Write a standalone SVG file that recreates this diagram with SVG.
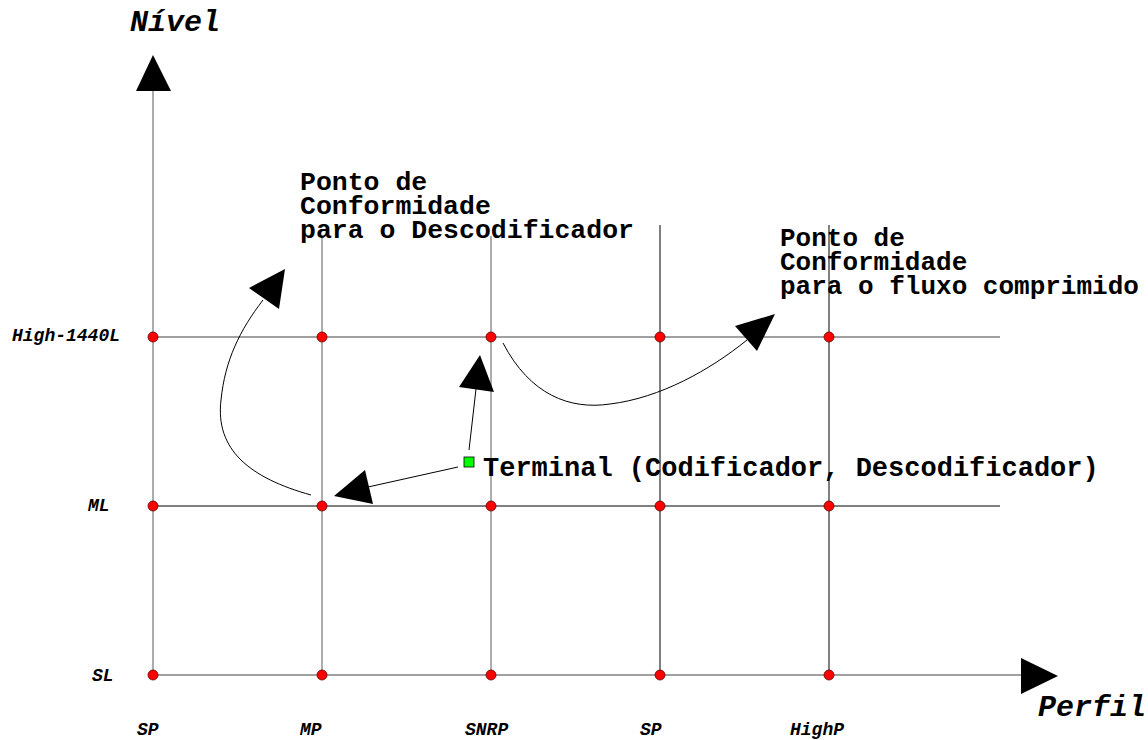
<svg xmlns="http://www.w3.org/2000/svg" width="1148" height="740" viewBox="0 0 1148 740">
<style>
.big{font-family:"Liberation Mono","Courier New",monospace;font-weight:bold;font-size:26px;fill:#000}
.axis{font-family:"Liberation Mono","Courier New",monospace;font-weight:bold;font-style:italic;font-size:30px;fill:#000}
.lab{font-family:"Liberation Mono","Courier New",monospace;font-weight:bold;font-style:italic;font-size:18px;fill:#000}
.g{stroke:#808080;stroke-width:1.3;fill:none}
.k{stroke:#000;stroke-width:1;fill:none}
.dot{fill:#ff0000;stroke:#600;stroke-width:0.8}
.head{fill:#000;stroke:none}
.curve{stroke:#000;stroke-width:1;fill:none}
</style>
<rect width="1148" height="740" fill="#fff"/>
<g id="grid">
<line class="g" x1="153" y1="90" x2="153" y2="675"/>
<line class="g" x1="322" y1="236" x2="322" y2="675"/>
<line class="g" x1="491" y1="236" x2="491" y2="675"/>
<line class="k" x1="660" y1="225" x2="660" y2="675"/>
<line class="k" x1="829" y1="225" x2="829" y2="675"/>
<line class="g" x1="153" y1="337" x2="1000" y2="337"/>
<line class="k" x1="153" y1="506" x2="1000" y2="506"/>
<line class="g" x1="153" y1="675" x2="1022" y2="675"/>
<polygon class="head" points="153,55 171,91 136,91"/>
<polygon class="head" points="1058,676 1021,658 1021,694"/>
</g>
<g id="points">
<circle class="dot" cx="153" cy="337" r="5"/><circle class="dot" cx="322" cy="337" r="5"/><circle class="dot" cx="491" cy="337" r="5"/><circle class="dot" cx="660" cy="337" r="5"/><circle class="dot" cx="829" cy="337" r="5"/>
<circle class="dot" cx="153" cy="506" r="5"/><circle class="dot" cx="322" cy="506" r="5"/><circle class="dot" cx="491" cy="506" r="5"/><circle class="dot" cx="660" cy="506" r="5"/><circle class="dot" cx="829" cy="506" r="5"/>
<circle class="dot" cx="153" cy="675" r="5"/><circle class="dot" cx="322" cy="675" r="5"/><circle class="dot" cx="491" cy="675" r="5"/><circle class="dot" cx="660" cy="675" r="5"/><circle class="dot" cx="829" cy="675" r="5"/>
</g>
<g id="terminal">
<rect x="464" y="457" width="10" height="10" fill="#00ff00" stroke="#000" stroke-width="0.8"/>
<text class="big" x="483" y="476" style="font-size:27px">Terminal (Codificador, Descodificador)</text>
</g>
<g id="connectors">
<path class="curve" d="M311,495 C250,478 215,450 221,400 C225,360 240,330 263,300"/>
<polygon class="head" points="285,269 249,288 279,309"/>
<line class="curve" x1="458" y1="467" x2="368" y2="487"/>
<polygon class="head" points="334,496 365,470 373,504"/>
<line class="curve" x1="469" y1="450" x2="476" y2="389"/>
<polygon class="head" points="480,355 459,387 494,392"/>
<path class="curve" d="M503,343 C530,395 570,410 610,404 C660,398 710,370 747,340"/>
<polygon class="head" points="775,314 735,326 757,351"/>
</g>
<g id="label-decoder">
<text class="big" x="300" y="190" style="font-size:26.5px">Ponto de</text>
<text class="big" x="300" y="214" style="font-size:26.5px">Conformidade</text>
<text class="big" x="300" y="238" style="font-size:26.5px">para o Descodificador</text>
</g>
<g id="label-stream">
<text class="big" x="780" y="246">Ponto de</text>
<text class="big" x="780" y="270">Conformidade</text>
<text class="big" x="780" y="294">para o fluxo comprimido</text>
</g>
<g id="axis-labels">
<text class="axis" x="130" y="31">Nível</text>
<text class="axis" x="1038" y="716">Perfil</text>
<text class="lab" x="12" y="341">High-1440L</text>
<text class="lab" x="88" y="511">ML</text>
<text class="lab" x="92" y="681">SL</text>
<text class="lab" x="137" y="735">SP</text>
<text class="lab" x="300" y="735">MP</text>
<text class="lab" x="465" y="735">SNRP</text>
<text class="lab" x="640" y="735">SP</text>
<text class="lab" x="790" y="735">HighP</text>
</g>
</svg>
